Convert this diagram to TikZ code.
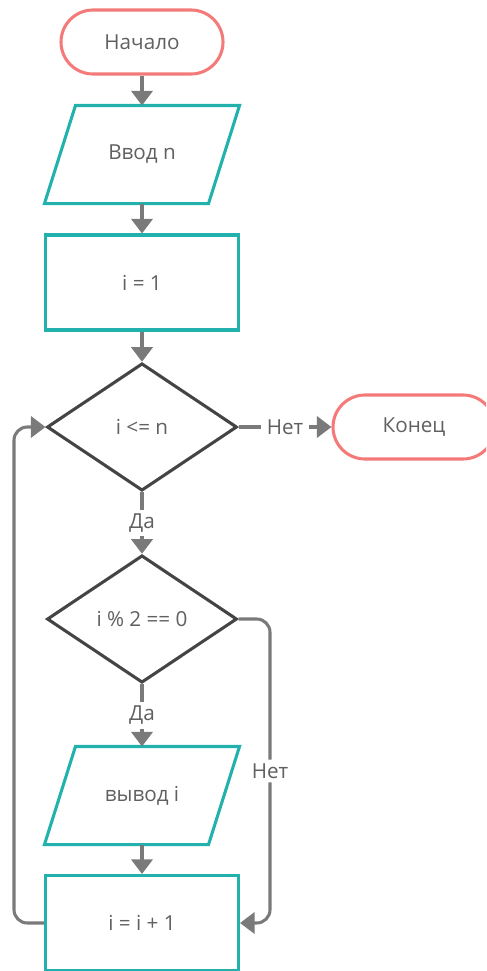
\documentclass[tikz,border=0pt]{standalone}
\usepackage{fontspec}
\setmainfont{Open Sans}
\usetikzlibrary{arrows.meta,shapes.geometric,calc}
\definecolor{termc}{HTML}{F47A7A}
\definecolor{boxc}{HTML}{22B1AD}
\definecolor{decc}{HTML}{444444}
\definecolor{linec}{HTML}{7A7A7A}
\definecolor{txtc}{HTML}{606060}
\tikzset{
  base/.style={inner sep=0pt, text=txtc, font=\fontsize{15.5pt}{18pt}\selectfont, line width=2.3pt},
  term/.style={base, draw=termc, rectangle, rounded corners=24pt, minimum width=121.5pt, minimum height=48pt},
  procbox/.style={base, draw=boxc, rectangle, minimum width=144.75pt, minimum height=71.25pt},
  iobox/.style={base, rectangle, minimum width=144pt, minimum height=71.25pt},
  iodraw/.style={draw=boxc, line width=2.3pt, line join=miter},
  decbox/.style={base, draw=decc, diamond, minimum width=142.5pt, minimum height=95.5pt},
  conn/.style={draw=linec, line width=2.3pt, -{Triangle[length=11pt,width=16pt]}},
  lbl/.style={fill=white, text=txtc, font=\fontsize{15.5pt}{18pt}\selectfont, inner xsep=4pt, inner ysep=3pt}
}
\begin{document}
\begin{tikzpicture}[x=0.75pt,y=-0.75pt]
\useasboundingbox (0,0) rectangle (486,971);
\begin{scope}
\clip (0,0) rectangle (486,971);
\node[term] (start) at (142,42) {Начало};
\node[iobox] (inp) at (142,154.5) {Ввод n};
\draw[iodraw] (inp.south west) -- ($(inp.north west)+(31,0)$) -- (inp.north east) -- ($(inp.south east)+(-31,0)$) -- cycle;
\node[procbox] (init) at (142,282.5) {i = 1};
\node[decbox] (d1) at (142,427) {i <= n};
\node[term] (stop) at (414,427) {Конец};
\node[decbox] (d2) at (142,619) {i \% 2 == 0};
\node[iobox] (outp) at (142,795.5) {вывод i};
\draw[iodraw] (outp.south west) -- ($(outp.north west)+(31,0)$) -- (outp.north east) -- ($(outp.south east)+(-31,0)$) -- cycle;
\node[procbox] (inc) at (142,923) {i = i + 1};
\coordinate (lx) at (14,0);
\coordinate (rx) at (270,0);

\draw[conn] (start) -- (inp);
\draw[conn] (inp) -- (init);
\draw[conn] (init) -- (d1);
\draw[conn] (d1) -- node[lbl] {Нет} (stop);
\draw[conn] (d1) -- node[lbl] {Да} (d2);
\draw[conn] (d2) -- node[lbl] {Да} (outp);
\draw[conn] (outp) -- (inc);
\draw[conn, rounded corners=10pt] (d2.east) -- (d2.east -| rx) -- node[lbl] {Нет} (inc.east -| rx) -- (inc.east);
\draw[conn, rounded corners=10pt] (inc.west) -- (inc.west -| lx) -- (d1.west -| lx) -- (d1.west);
\end{scope}
\end{tikzpicture}
\end{document}
